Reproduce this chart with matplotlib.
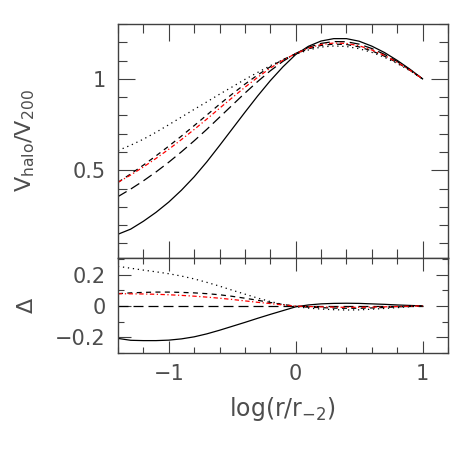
import numpy as np
import matplotlib
matplotlib.use("Agg")
import matplotlib.pyplot as plt
from matplotlib.ticker import MultipleLocator

# =========================
# DATA
# =========================
log_r = [-1.4, -1.3, -1.2, -1.1, -1.0, -0.9, -0.8, -0.7, -0.6, -0.5, -0.4, -0.3, -0.2,
         -0.1, 0.0, 0.1, 0.2, 0.3, 0.4, 0.5, 0.6, 0.7, 0.8, 0.9, 1.0]

# top panel: V_halo / V_200
v_solid = [0.150, 0.178, 0.221, 0.270, 0.326, 0.391, 0.464, 0.546, 0.635, 0.726, 0.817, 0.906, 0.990,
           1.066, 1.133, 1.178, 1.207, 1.220, 1.220, 1.206, 1.179, 1.144, 1.101, 1.053, 1.000]
v_dotted = [0.608, 0.637, 0.670, 0.708, 0.749, 0.791, 0.833, 0.874, 0.916, 0.956, 0.997, 1.035, 1.072,
            1.105, 1.134, 1.158, 1.174, 1.180, 1.177, 1.165, 1.145, 1.118, 1.084, 1.045, 1.000]
v_short = [0.434, 0.480, 0.528, 0.579, 0.632, 0.687, 0.744, 0.802, 0.861, 0.917, 0.971, 1.021, 1.066,
           1.105, 1.137, 1.164, 1.183, 1.190, 1.188, 1.175, 1.153, 1.124, 1.089, 1.047, 1.000]
v_long = [0.356, 0.397, 0.442, 0.491, 0.544, 0.601, 0.661, 0.724, 0.790, 0.856, 0.922, 0.985, 1.044,
          1.096, 1.139, 1.172, 1.194, 1.204, 1.203, 1.190, 1.166, 1.134, 1.095, 1.050, 1.000]
v_red = [0.434, 0.474, 0.518, 0.565, 0.615, 0.668, 0.723, 0.780, 0.839, 0.897, 0.954, 1.008, 1.059,
         1.102, 1.138, 1.168, 1.188, 1.196, 1.194, 1.181, 1.158, 1.128, 1.091, 1.048, 1.000]

# bottom panel: Delta
d_solid = [-0.207, -0.219, -0.221, -0.221, -0.218, -0.210, -0.197, -0.178, -0.155, -0.130, -0.105, -0.079, -0.054,
           -0.030, -0.006, 0.006, 0.013, 0.016, 0.017, 0.016, 0.013, 0.010, 0.006, 0.003, 0.0]
d_dotted = [0.252, 0.240, 0.228, 0.217, 0.205, 0.190, 0.172, 0.150, 0.126, 0.100, 0.075, 0.050, 0.028,
            0.009, -0.005, -0.014, -0.020, -0.024, -0.026, -0.025, -0.021, -0.016, -0.011, -0.005, 0.0]
d_short = [0.078, 0.083, 0.086, 0.088, 0.088, 0.086, 0.083, 0.078, 0.071, 0.061, 0.049, 0.036, 0.022,
           0.009, -0.002, -0.008, -0.011, -0.014, -0.015, -0.015, -0.013, -0.010, -0.006, -0.003, 0.0]
d_long = [0.0] * 25
d_red = [0.078, 0.077, 0.076, 0.074, 0.071, 0.067, 0.062, 0.056, 0.049, 0.041, 0.032, 0.023, 0.015,
         0.006, -0.001, -0.004, -0.006, -0.008, -0.009, -0.009, -0.008, -0.006, -0.004, -0.002, 0.0]

# =========================
# STYLE
# =========================
plt.rcParams['font.family'] = ['DejaVu Sans']
plt.rcParams['mathtext.default'] = 'regular'
ink = '0.25'
txt = '0.3'
lw = 0.9
styles = [
    (v_solid, d_solid, dict(color='k', ls='-')),
    (v_dotted, d_dotted, dict(color='k', ls=(0, (1, 3)))),
    (v_short, d_short, dict(color='k', ls=(0, (4, 3.5)))),
    (v_long, d_long, dict(color='k', ls=(0, (8, 4)))),
    (v_red, d_red, dict(color='red', ls=(0, (3.5, 2, 1, 2)))),
]

fig = plt.figure(figsize=(4.71, 4.71), dpi=100)
ax1 = fig.add_axes([0.2505, 0.4522, 0.7006, 0.4968])
ax2 = fig.add_axes([0.2505, 0.2505, 0.7006, 0.2017], sharex=ax1)

for v, d, st in styles:
    ax1.plot(log_r, v, lw=lw, **st)
    ax2.plot(log_r, d, lw=lw, **st)

ax1.set_xlim(-1.4, 1.2)
ax1.set_ylim(0.02, 1.3)
ax2.set_ylim(-0.3, 0.305)

ax1.xaxis.set_major_locator(MultipleLocator(1))
ax1.xaxis.set_minor_locator(MultipleLocator(0.2))
ax1.yaxis.set_major_locator(MultipleLocator(0.5))
ax1.yaxis.set_minor_locator(MultipleLocator(0.1))
ax2.yaxis.set_major_locator(MultipleLocator(0.2))
ax2.yaxis.set_minor_locator(MultipleLocator(0.1))

for ax, big, small in [(ax1, 12, 6.5), (ax2, 9, 4.5)]:
    ax.tick_params(which='both', direction='in', top=True, right=True,
                   color=ink, width=0.8, labelcolor=txt, labelsize=15)
    ax.tick_params(which='major', length=big)
    ax.tick_params(which='minor', length=small)
    ax.tick_params(axis='y', pad=9)
    ax.tick_params(axis='x', pad=8)
    for s in ax.spines.values():
        s.set_color(ink)
        s.set_linewidth(1.0)

ax1.tick_params(axis='x', labelbottom=False)
ax1.set_yticks([0.5, 1])
ax1.set_yticklabels(['0.5', '1'])
ax2.set_yticks([-0.2, 0, 0.2])
ax2.set_yticklabels(['\u22120.2', '0', '0.2'])
ax2.set_xticks([-1, 0, 1])
ax2.set_xticklabels(['\u22121', '0', '1'])

ax1.set_ylabel(r'V$_{halo}$/V$_{200}$', fontsize=16, color=txt)
ax1.yaxis.set_label_coords(-0.245, 0.5)
ax2.set_ylabel('\u0394', fontsize=16, color=txt)
ax2.yaxis.set_label_coords(-0.245, 0.5)
ax2.set_xlabel(r'log(r/r$_{-2}$)', fontsize=17, color=txt, labelpad=8)

fig.savefig('out.png', dpi=100)
